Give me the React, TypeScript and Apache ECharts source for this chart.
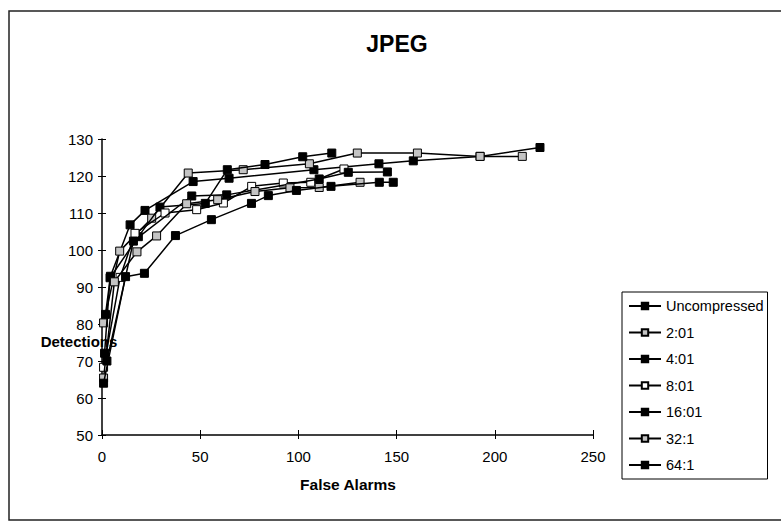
import React, { useEffect, useRef } from "react";
import * as echarts from "echarts";

const FONT = "'Liberation Sans', Arial, sans-serif";

const chartTitle = "JPEG";
const xAxisTitle = "False Alarms";
const yAxisTitle = "Detections";

const xTicks = [0, 50, 100, 150, 200, 250];
const yTicks = [50, 60, 70, 80, 90, 100, 110, 120, 130];

const seriesNames = ["Uncompressed", "2:01", "4:01", "8:01", "16:01", "32:1", "64:1"];
const seriesKinds = ["filled", "hatched", "filled", "open", "filled", "hatched", "filled"];

const uncompressed = [
  [1.8, 82.6], [4.3, 92.9], [14.3, 106.8], [21.9, 110.7], [46.4, 118.5], [64.7, 119.4],
  [107.9, 121.7], [141, 123.3], [158.5, 124.1], [192.5, 125.3], [223, 127.7],
];
const ratio2 = [
  [0.8, 80.3], [9, 99.7], [25.3, 108.6], [43.9, 120.8], [71.9, 121.7], [105.6, 123.3],
  [130, 126.2], [160.6, 126.2], [192.5, 125.3], [214, 125.3],
];
const ratio4 = [
  [1.3, 72.1], [4.1, 92.5], [18.5, 103.6], [29.5, 111.6], [52.6, 112.6], [63.8, 121.7],
  [83, 123.1], [102.2, 125.2], [117, 126.2],
];
const ratio8 = [
  [0.8, 68.3], [9.2, 92.6], [16.8, 104.5], [32.1, 110], [48.2, 110.9], [61.8, 112.7],
  [76.2, 117.2], [92.3, 118.1], [106.3, 118.3], [123.2, 121.9],
];
const ratio16 = [
  [2.5, 70], [16, 102.4], [45.7, 114.6], [63.5, 114.9], [110.6, 119.2], [125.4, 121],
  [145.3, 121.1],
];
const ratio32 = [
  [0.8, 65.4], [6.3, 91.4], [17.8, 99.5], [27.8, 103.8], [43.1, 112.5], [58.9, 113.6],
  [77.9, 115.8], [95.7, 116.8], [110.6, 116.9], [131.4, 118.3],
];
const ratio64 = [
  [0.8, 64], [12, 92.8], [21.6, 93.7], [37.4, 103.9], [55.7, 108.2], [76.1, 112.6],
  [84.7, 114.7], [99, 116.1], [116.6, 117.2], [141.2, 118.3], [148.3, 118.3],
];

const seriesData = [uncompressed, ratio2, ratio4, ratio8, ratio16, ratio32, ratio64];

const fillFor: Record<string, string> = { filled: "#000", hatched: "#c4c4c4", open: "#fff" };

export default function App() {
  const ref = useRef<HTMLDivElement>(null);
  useEffect(() => {
    if (!ref.current) return;
    const chart = echarts.init(ref.current, null, { renderer: "svg" });
    const xMin = xTicks[0];
    const xMax = xTicks[xTicks.length - 1];
    const yMin = yTicks[0];
    const yMax = yTicks[yTicks.length - 1];
    const xStep = xTicks[1] - xTicks[0];
    const yStep = yTicks[1] - yTicks[0];
    const option: any = {
      animation: false,
      backgroundColor: "#fff",
      textStyle: { fontFamily: FONT },
      grid: { left: 102, top: 139, right: 188, bottom: 88, containLabel: false },
      xAxis: [
        {
          type: "value", min: xMin, max: xMax, interval: xStep,
          splitLine: { show: false },
          axisLine: { show: true, lineStyle: { color: "#000", width: 1.5 } },
          axisTick: { show: true, inside: false, length: 4, lineStyle: { color: "#000" } },
          axisLabel: { color: "#000", fontSize: 15, margin: 14, fontFamily: FONT },
        },
        {
          type: "value", min: xMin, max: xMax, interval: xStep, position: "bottom", offset: 0,
          splitLine: { show: false },
          axisLine: { show: false },
          axisTick: { show: true, inside: true, length: 5, lineStyle: { color: "#000" } },
          axisLabel: { show: false },
        },
      ],
      yAxis: [
        {
          type: "value", min: yMin, max: yMax, interval: yStep,
          splitLine: { show: false },
          axisLine: { show: true, lineStyle: { color: "#000", width: 1.5 } },
          axisTick: { show: true, inside: false, length: 4, lineStyle: { color: "#000" } },
          axisLabel: { color: "#000", fontSize: 15, margin: 9, fontFamily: FONT },
        },
        {
          type: "value", min: yMin, max: yMax, interval: yStep, position: "left", offset: 0,
          splitLine: { show: false },
          axisLine: { show: false },
          axisTick: { show: true, inside: true, length: 4, lineStyle: { color: "#000" } },
          axisLabel: { show: false },
        },
      ],
      legend: {
        data: seriesNames,
        orient: "vertical",
        left: 622,
        top: 292,
        padding: [5, 4, 5, 6],
        itemWidth: 32,
        itemHeight: 8,
        itemGap: 8.5,
        borderColor: "#000",
        borderWidth: 1,
        backgroundColor: "#fff",
        textStyle: { color: "#000", fontSize: 14.5, lineHeight: 18, fontFamily: FONT },
      },
      graphic: [
        {
          type: "rect", z: -10, silent: true,
          shape: { x: 9, y: 11, width: 790, height: 509 },
          style: { fill: "none", stroke: "#222", lineWidth: 1.5 },
        },
        {
          type: "text", x: 397, y: 44,
          style: {
            text: chartTitle, fill: "#000", font: `bold 23px ${FONT}`,
            textAlign: "center", textVerticalAlign: "middle",
          },
        },
        {
          type: "text", x: 79, y: 341, z: 100,
          style: {
            text: yAxisTitle, fill: "#000", font: `bold 15px ${FONT}`,
            textAlign: "center", textVerticalAlign: "middle",
          },
        },
        {
          type: "text", x: 348, y: 484,
          style: {
            text: xAxisTitle, fill: "#000", font: `bold 15.5px ${FONT}`,
            textAlign: "center", textVerticalAlign: "middle",
          },
        },
      ],
      series: seriesNames.map((name, i) => ({
        name,
        type: "line",
        xAxisIndex: 0,
        yAxisIndex: 0,
        data: seriesData[i],
        symbol: "rect",
        symbolSize: 8,
        showAllSymbol: true,
        lineStyle: { color: "#000", width: 1.5 },
        itemStyle: { color: fillFor[seriesKinds[i]], borderColor: "#000", borderWidth: 1 },
        emphasis: { disabled: true },
        z: 2 + i,
      })),
    };
    chart.setOption(option);
    return () => chart.dispose();
  }, []);
  return (
    <div
      ref={ref}
      style={{ position: "absolute", left: 0, top: 0, width: 781, height: 523, background: "#fff" }}
    />
  );
}
